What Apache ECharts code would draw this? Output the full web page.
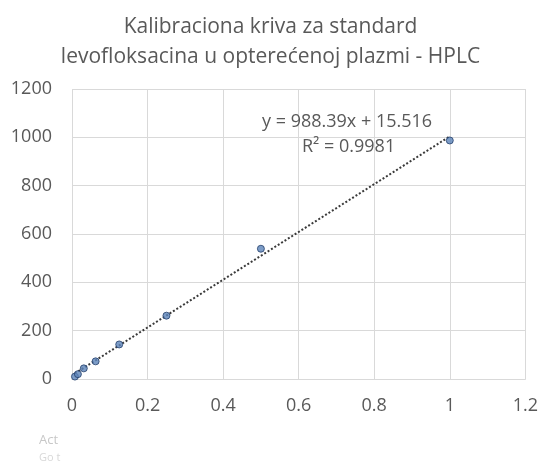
<!DOCTYPE html>
<html>
<head>
<meta charset="utf-8">
<script src="https://cdn.jsdelivr.net/npm/echarts@6/dist/echarts.min.js"></script>
<style>html,body{margin:0;padding:0;background:#fff;}#c{width:541px;height:463px;}</style>
</head>
<body>
<div id="c"></div>
<script>
const titleLines = ['Kalibraciona kriva za standard', 'levofloksacina u opterećenoj plazmi - HPLC'];
const concentrations = [0.0078125, 0.015625, 0.03125, 0.0625, 0.125, 0.25, 0.5, 1];
const responses = [10, 20, 44, 73, 143, 262, 539, 987];
const trendX = [0.0078125, 1];
const trendY = [23.2, 1003.9];
const equationText = 'y = 988.39x + 15.516';
const r2Text = 'R² = 0.9981';
const xTicks = ['0', '0.2', '0.4', '0.6', '0.8', '1', '1.2'];
const yTicks = ['0', '200', '400', '600', '800', '1000', '1200'];

const FONT = 'Open Sans';
const chart = echarts.init(document.getElementById('c'), null, {renderer: 'canvas'});
chart.setOption({
  animation: false,
  backgroundColor: '#fff',
  title: {
    text: titleLines.join('\n'),
    left: 'center', top: 7,
    textStyle: {fontFamily: FONT, fontSize: 21, fontWeight: 'normal', color: '#595959', lineHeight: 30}
  },
  grid: {left: 72, right: 14, top: 89, bottom: 84},
  xAxis: {
    type: 'value', min: 0, max: 1.2, interval: 0.2,
    axisLine: {show: true, lineStyle: {color: '#d9d9d9', width: 1}},
    axisTick: {show: false},
    splitLine: {show: true, lineStyle: {color: '#d9d9d9', width: 1}},
    axisLabel: {
      margin: 18, color: '#595959', fontFamily: FONT, fontSize: 18,
      formatter: v => xTicks[Math.round(v / 0.2)]
    }
  },
  yAxis: {
    type: 'value', min: 0, max: 1200, interval: 200,
    axisLine: {show: false},
    axisTick: {show: false},
    splitLine: {show: true, lineStyle: {color: '#d9d9d9', width: 1}},
    axisLabel: {
      margin: 20, color: '#595959', fontFamily: FONT, fontSize: 18,
      formatter: v => yTicks[Math.round(v / 200)]
    }
  },
  series: [
    {
      type: 'line',
      data: trendX.map((x, i) => [x, trendY[i]]),
      showSymbol: false, symbol: 'none',
      lineStyle: {color: '#3a3a3a', width: 2, type: [2, 2]},
      z: 2
    },
    {
      type: 'scatter',
      data: concentrations.map((x, i) => [x, responses[i]]),
      symbol: 'circle', symbolSize: 7,
      itemStyle: {color: '#5b83b9', borderColor: '#24406b', borderWidth: 1},
      z: 3
    }
  ],
  graphic: [
    {type: 'text', z: 100, left: 262, top: 113, style: {text: equationText, font: '18px "Open Sans"', fill: '#595959'}},
    {type: 'text', z: 100, left: 302, top: 138, style: {text: r2Text, font: '18px "Open Sans"', fill: '#595959'}},
    {type: 'text', z: 100, left: 39, top: 434, style: {text: 'Act', font: '13px "Open Sans"', fill: '#c8c8c8'}},
    {type: 'text', z: 100, left: 39, top: 452, style: {text: 'Go t', font: '11px "Open Sans"', fill: '#d8d8d8'}}
  ]
});
</script>
</body>
</html>
